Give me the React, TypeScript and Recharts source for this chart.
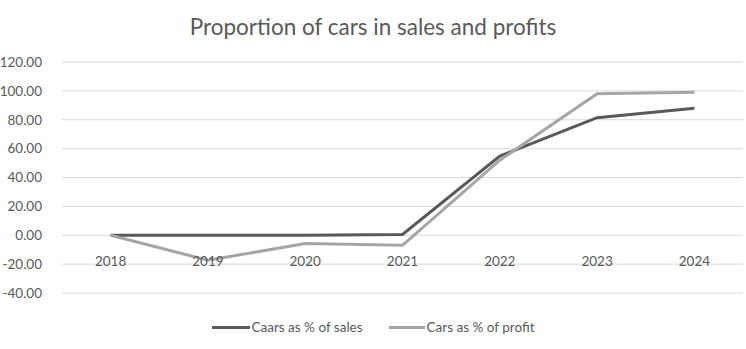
import React from "react";
import { LineChart, Line, XAxis, YAxis, CartesianGrid } from "recharts";

const years = ["2018", "2019", "2020", "2021", "2022", "2023", "2024"];
const salesPct = [0, 0, 0, 0.5, 54.8, 81.4, 88];
const profitPct = [0, -17.3, -5.8, -7, 52, 98, 99];
const yTicks = [-40, -20, 0, 20, 40, 60, 80, 100, 120];

const data = years.map((y, i) => ({ year: y, sales: salesPct[i], profit: profitPct[i] }));

const FONT = "Lato, 'Open Sans', sans-serif";
const TXT = "#595959";

const XTick = (props: any) => {
  const { x, y, payload } = props;
  return (
    <text x={x} y={y - 40} textAnchor="middle" dominantBaseline="central" fill={TXT} fontSize={13.5} fontFamily={FONT}>
      {payload.value}
    </text>
  );
};

export default function App() {
  return (
    <div style={{ position: "absolute", left: 0, top: 0, width: 746, height: 349, background: "#fff" }}>
      <div style={{ position: "absolute", left: 0, top: 12, width: 746, textAlign: "center", fontFamily: FONT, fontSize: 22.5, color: TXT, zIndex: 1, lineHeight: "30px" }}>
        Proportion of cars in sales and profits
      </div>
      <LineChart width={746} height={349} data={data} margin={{ top: 62, right: 3, bottom: 26, left: 0 }}>
        <CartesianGrid vertical={false} stroke="#d9d9d9" strokeWidth={1} />
        <XAxis dataKey="year" axisLine={false} tickLine={false} tick={<XTick />} interval={0} padding={{ left: 48.6, right: 48.6 }} />
        <YAxis
          domain={[-40, 120]}
          ticks={yTicks}
          width={62}
          axisLine={false}
          tickLine={false}
          tickMargin={14}
          tickFormatter={(v: number) => v.toFixed(2)}
          tick={{ fill: TXT, fontSize: 13.5, fontFamily: FONT }}
        />
        <Line type="linear" dataKey="sales" stroke="#595959" strokeWidth={3} dot={false} isAnimationActive={false} />
        <Line type="linear" dataKey="profit" stroke="#a5a5a5" strokeWidth={3} dot={false} isAnimationActive={false} />
      </LineChart>
      <div style={{ position: "absolute", left: 0, top: 318, width: 746, display: "flex", justifyContent: "center", alignItems: "center", fontFamily: FONT, fontSize: 13.5, color: TXT, lineHeight: "18px" }}>
        <span style={{ display: "inline-block", width: 38, height: 3, background: "#595959", marginRight: 2 }} />
        <span style={{ marginRight: 26 }}>Caars as % of sales</span>
        <span style={{ display: "inline-block", width: 36, height: 3, background: "#a5a5a5", marginRight: 2 }} />
        <span>Cars as % of profit</span>
      </div>
    </div>
  );
}
